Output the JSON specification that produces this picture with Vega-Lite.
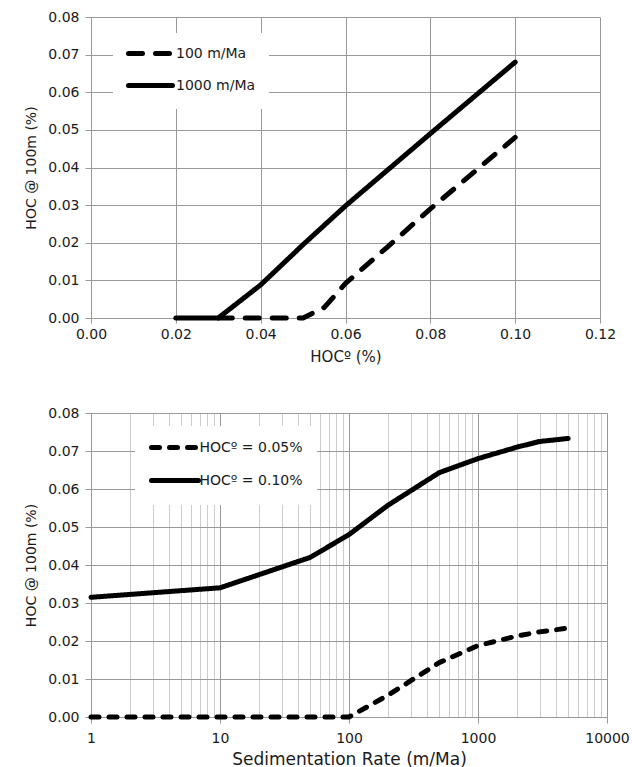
{
  "$schema": "https://vega.github.io/schema/vega-lite/v6.json",
  "padding": {"left": 24, "top": 10, "right": 2, "bottom": 2},
  "spacing": 42,
  "resolve": {"scale": {"strokeDash": "independent"}, "legend": {"strokeDash": "independent"}},
  "config": {
    "font": "DejaVu Sans",
    "view": {"stroke": null},
    "axis": {
      "gridColor": "#999999", "domainColor": "#999999", "tickColor": "#999999",
      "labelFontSize": 14, "labelColor": "#1a1a1a", "titleColor": "#1a1a1a",
      "titleFontWeight": "normal", "labelFlush": false, "labelOverlap": false,
      "gridWidth": 1, "domainWidth": 1
    },
    "legend": {
      "orient": "none", "title": null, "fillColor": "white",
      "labelFontSize": 14, "labelColor": "#1a1a1a",
      "symbolStrokeColor": "black", "symbolStrokeWidth": 5, "symbolSize": 100
    }
  },
  "vconcat": [
    {
      "width": 509, "height": 301,
      "data": {"values": [
        {"x": 0.03, "y": 0, "s": "100 m/Ma"},
        {"x": 0.04, "y": 0, "s": "100 m/Ma"},
        {"x": 0.05, "y": 0, "s": "100 m/Ma"},
        {"x": 0.055, "y": 0.0028, "s": "100 m/Ma"},
        {"x": 0.06, "y": 0.0092, "s": "100 m/Ma"},
        {"x": 0.07, "y": 0.019, "s": "100 m/Ma"},
        {"x": 0.08, "y": 0.029, "s": "100 m/Ma"},
        {"x": 0.09, "y": 0.0385, "s": "100 m/Ma"},
        {"x": 0.10, "y": 0.048, "s": "100 m/Ma"},
        {"x": 0.02, "y": 0, "s": "1000 m/Ma"},
        {"x": 0.03, "y": 0, "s": "1000 m/Ma"},
        {"x": 0.04, "y": 0.0088, "s": "1000 m/Ma"},
        {"x": 0.05, "y": 0.0195, "s": "1000 m/Ma"},
        {"x": 0.06, "y": 0.0298, "s": "1000 m/Ma"},
        {"x": 0.07, "y": 0.0394, "s": "1000 m/Ma"},
        {"x": 0.08, "y": 0.049, "s": "1000 m/Ma"},
        {"x": 0.09, "y": 0.0585, "s": "1000 m/Ma"},
        {"x": 0.10, "y": 0.068, "s": "1000 m/Ma"}
      ]},
      "mark": {"type": "line", "color": "black", "strokeWidth": 5, "strokeCap": "round", "strokeJoin": "round"},
      "encoding": {
        "x": {"field": "x", "type": "quantitative",
          "scale": {"domain": [0, 0.12], "nice": false, "zero": false},
          "axis": {"title": "HOCº (%)", "values": [0, 0.02, 0.04, 0.06, 0.08, 0.1, 0.12], "format": ".2f",
            "tickSize": 5, "labelPadding": 4, "titleFontSize": 15, "titlePadding": 8}},
        "y": {"field": "y", "type": "quantitative",
          "scale": {"domain": [0, 0.08], "nice": false},
          "axis": {"title": "HOC @ 100m (%)", "values": [0, 0.01, 0.02, 0.03, 0.04, 0.05, 0.06, 0.07, 0.08], "format": ".2f",
            "tickSize": 6, "labelPadding": 6, "titleFontSize": 14, "titlePadding": 9}},
        "strokeDash": {"field": "s", "type": "nominal",
          "scale": {"domain": ["100 m/Ma", "1000 m/Ma"], "range": [[14, 13], [1, 0]]},
          "legend": {"legendX": 22, "legendY": 16, "padding": 13, "symbolType": "M-4.4,0H4.4", "symbolOffset": 17, "labelOffset": 18, "rowPadding": 11,
            "encode": {"symbols": {"update": {
              "strokeCap": {"value": "round"},
              "strokeDash": [{"test": "datum.value === '100 m/Ma'", "value": [8.5, 9]}, {"value": [1, 0]}]
            }}}}}
      }
    },
    {
      "width": 516, "height": 304,
      "data": {"values": [
        {"r": 1, "y": 0, "s": "HOCº = 0.05%"},
        {"r": 10, "y": 0, "s": "HOCº = 0.05%"},
        {"r": 50, "y": 0, "s": "HOCº = 0.05%"},
        {"r": 100, "y": 0, "s": "HOCº = 0.05%"},
        {"r": 200, "y": 0.0057, "s": "HOCº = 0.05%"},
        {"r": 500, "y": 0.0143, "s": "HOCº = 0.05%"},
        {"r": 1000, "y": 0.0188, "s": "HOCº = 0.05%"},
        {"r": 2000, "y": 0.0213, "s": "HOCº = 0.05%"},
        {"r": 3000, "y": 0.0224, "s": "HOCº = 0.05%"},
        {"r": 5000, "y": 0.0234, "s": "HOCº = 0.05%"},
        {"r": 1, "y": 0.0315, "s": "HOCº = 0.10%"},
        {"r": 10, "y": 0.034, "s": "HOCº = 0.10%"},
        {"r": 50, "y": 0.042, "s": "HOCº = 0.10%"},
        {"r": 100, "y": 0.048, "s": "HOCº = 0.10%"},
        {"r": 200, "y": 0.0557, "s": "HOCº = 0.10%"},
        {"r": 500, "y": 0.0643, "s": "HOCº = 0.10%"},
        {"r": 1000, "y": 0.068, "s": "HOCº = 0.10%"},
        {"r": 2000, "y": 0.071, "s": "HOCº = 0.10%"},
        {"r": 3000, "y": 0.0725, "s": "HOCº = 0.10%"},
        {"r": 5000, "y": 0.0733, "s": "HOCº = 0.10%"}
      ]},
      "mark": {"type": "line", "color": "black", "strokeWidth": 5, "strokeCap": "round", "strokeJoin": "round"},
      "encoding": {
        "x": {"field": "r", "type": "quantitative",
          "scale": {"type": "log", "domain": [1, 10000], "nice": false},
          "axis": {"title": "Sedimentation Rate (m/Ma)",
            "values": [1,2,3,4,5,6,7,8,9,10,20,30,40,50,60,70,80,90,100,200,300,400,500,600,700,800,900,1000,2000,3000,4000,5000,6000,7000,8000,9000,10000],
            "labelExpr": "indexof([1,10,100,1000,10000], datum.value) >= 0 ? format(datum.value, 'd') : ''",
            "gridColor": {"condition": {"test": "indexof([1,10,100,1000,10000], datum.value) >= 0", "value": "#999999"}, "value": "#cccccc"},
            "tickOpacity": {"condition": {"test": "indexof([1,10,100,1000,10000], datum.value) >= 0", "value": 1}, "value": 0},
            "tickSize": 6, "labelPadding": 8, "titleFontSize": 17, "titlePadding": 6}},
        "y": {"field": "y", "type": "quantitative",
          "scale": {"domain": [0, 0.08], "nice": false},
          "axis": {"title": "HOC @ 100m (%)", "values": [0, 0.01, 0.02, 0.03, 0.04, 0.05, 0.06, 0.07, 0.08], "format": ".2f",
            "tickSize": 6, "labelPadding": 6, "titleFontSize": 14, "titlePadding": 9}},
        "strokeDash": {"field": "s", "type": "nominal",
          "scale": {"domain": ["HOCº = 0.05%", "HOCº = 0.10%"], "range": [[8, 10], [1, 0]]},
          "legend": {"legendX": 44, "legendY": 13, "padding": 14, "symbolType": "M-4.7,0H4.7", "symbolOffset": 18.5, "labelOffset": 17, "rowPadding": 12,
            "encode": {"symbols": {"update": {
              "strokeCap": {"value": "round"},
              "strokeDash": [{"test": "datum.value === 'HOCº = 0.05%'", "value": [8.5, 9]}, {"value": [1, 0]}]
            }}}}}
      }
    }
  ]
}
